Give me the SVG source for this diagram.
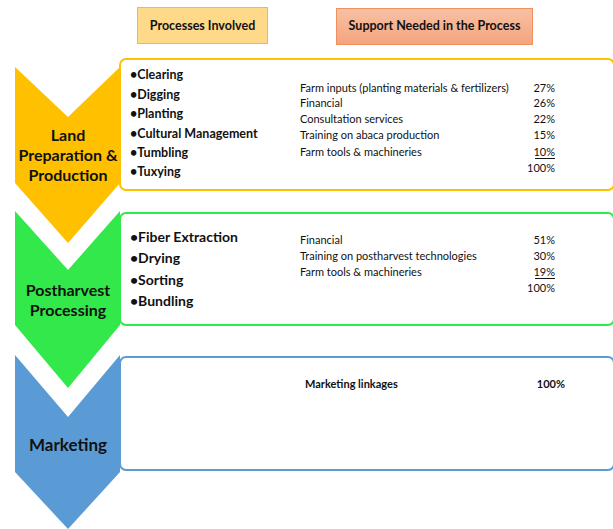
<svg xmlns="http://www.w3.org/2000/svg" width="613" height="529" viewBox="0 0 613 529">
<defs>
<linearGradient id="gSup" x1="0" y1="0" x2="0" y2="1">
<stop offset="0" stop-color="#F8C1A4"/>
<stop offset="1" stop-color="#F3A47D"/>
</linearGradient>
</defs>
<style>
text{font-family:Lato,"Open Sans","Liberation Sans",sans-serif;fill:#111}
.hd{font-size:12.5px;font-weight:bold}
.stage{font-size:16px;font-weight:bold;text-anchor:middle}
.b1{font-size:12.5px;font-weight:bold}
.b2{font-size:14px;font-weight:bold}
.r{font-size:11px}
.p{font-size:11px;text-anchor:end}
.box{fill:#fff;stroke-width:2}
</style>
<rect width="613" height="529" fill="#fff"/>
<g id="header-processes">
<rect x="137.5" y="7.5" width="130" height="36" fill="#FFD98A" stroke="#FFC000" stroke-width="1"/>
<text class="hd" x="202.5" y="29.5" text-anchor="middle">Processes Involved</text>
</g>
<g id="header-support">
<rect x="336.5" y="8.5" width="196" height="36" fill="url(#gSup)" stroke="#F0905F" stroke-width="1"/>
<text class="hd" x="434.5" y="30" text-anchor="middle">Support Needed in the Process</text>
</g>
<g id="land">
<rect class="box" x="120" y="59" width="494" height="131" rx="6" stroke="#FFC000"/>
<polygon points="15,67 68,117 120,67 120,183 68,243 15,183" fill="#FFC000"/>
<text class="stage" x="68" y="141">Land</text>
<text class="stage" x="68" y="161">Preparation &amp;</text>
<text class="stage" x="68" y="181">Production</text>
<text class="b1" x="130" y="79">•Clearing</text>
<text class="b1" x="130" y="99">•Digging</text>
<text class="b1" x="130" y="118">•Planting</text>
<text class="b1" x="130" y="138">•Cultural Management</text>
<text class="b1" x="130" y="157">•Tumbling</text>
<text class="b1" x="130" y="176">•Tuxying</text>
<text class="r" x="300" y="92">Farm inputs (planting materials &amp; fertilizers)</text>
<text class="r" x="300" y="107">Financial</text>
<text class="r" x="300" y="123">Consultation services</text>
<text class="r" x="300" y="139">Training on abaca production</text>
<text class="r" x="300" y="156">Farm tools &amp; machineries</text>
<text class="p" x="555" y="92">27%</text>
<text class="p" x="555" y="107">26%</text>
<text class="p" x="555" y="123">22%</text>
<text class="p" x="555" y="139">15%</text>
<text class="p" x="555" y="156">10%</text>
<line x1="535" y1="158.5" x2="555" y2="158.5" stroke="#111" stroke-width="1"/>
<text class="p" x="555" y="172">100%</text>
</g>
<g id="postharvest">
<rect class="box" x="120" y="213" width="494" height="112" rx="6" stroke="#33E84A"/>
<polygon points="15,211 68,270 120,211 120,325 68,388 15,325" fill="#33E84A"/>
<text class="stage" x="68" y="296">Postharvest</text>
<text class="stage" x="68" y="316">Processing</text>
<text class="b2" x="130" y="242">•Fiber Extraction</text>
<text class="b2" x="130" y="263">•Drying</text>
<text class="b2" x="130" y="285">•Sorting</text>
<text class="b2" x="130" y="306">•Bundling</text>
<text class="r" x="300" y="244">Financial</text>
<text class="r" x="300" y="260">Training on postharvest technologies</text>
<text class="r" x="300" y="276">Farm tools &amp; machineries</text>
<text class="p" x="555" y="244">51%</text>
<text class="p" x="555" y="260">30%</text>
<text class="p" x="555" y="276">19%</text>
<line x1="535" y1="278.5" x2="555" y2="278.5" stroke="#111" stroke-width="1"/>
<text class="p" x="555" y="292">100%</text>
</g>
<g id="marketing">
<rect class="box" x="120" y="357" width="494" height="113" rx="6" stroke="#5B9BD5"/>
<polygon points="15,355 68,417 120,355 120,472 68,529 15,472" fill="#5B9BD5"/>
<text class="stage" x="68" y="451" style="font-size:17px">Marketing</text>
<text class="r" x="305" y="388" style="font-weight:bold">Marketing linkages</text>
<text class="p" x="565" y="388" style="font-weight:bold">100%</text>
</g>
<g id="connectors"></g>
</svg>
